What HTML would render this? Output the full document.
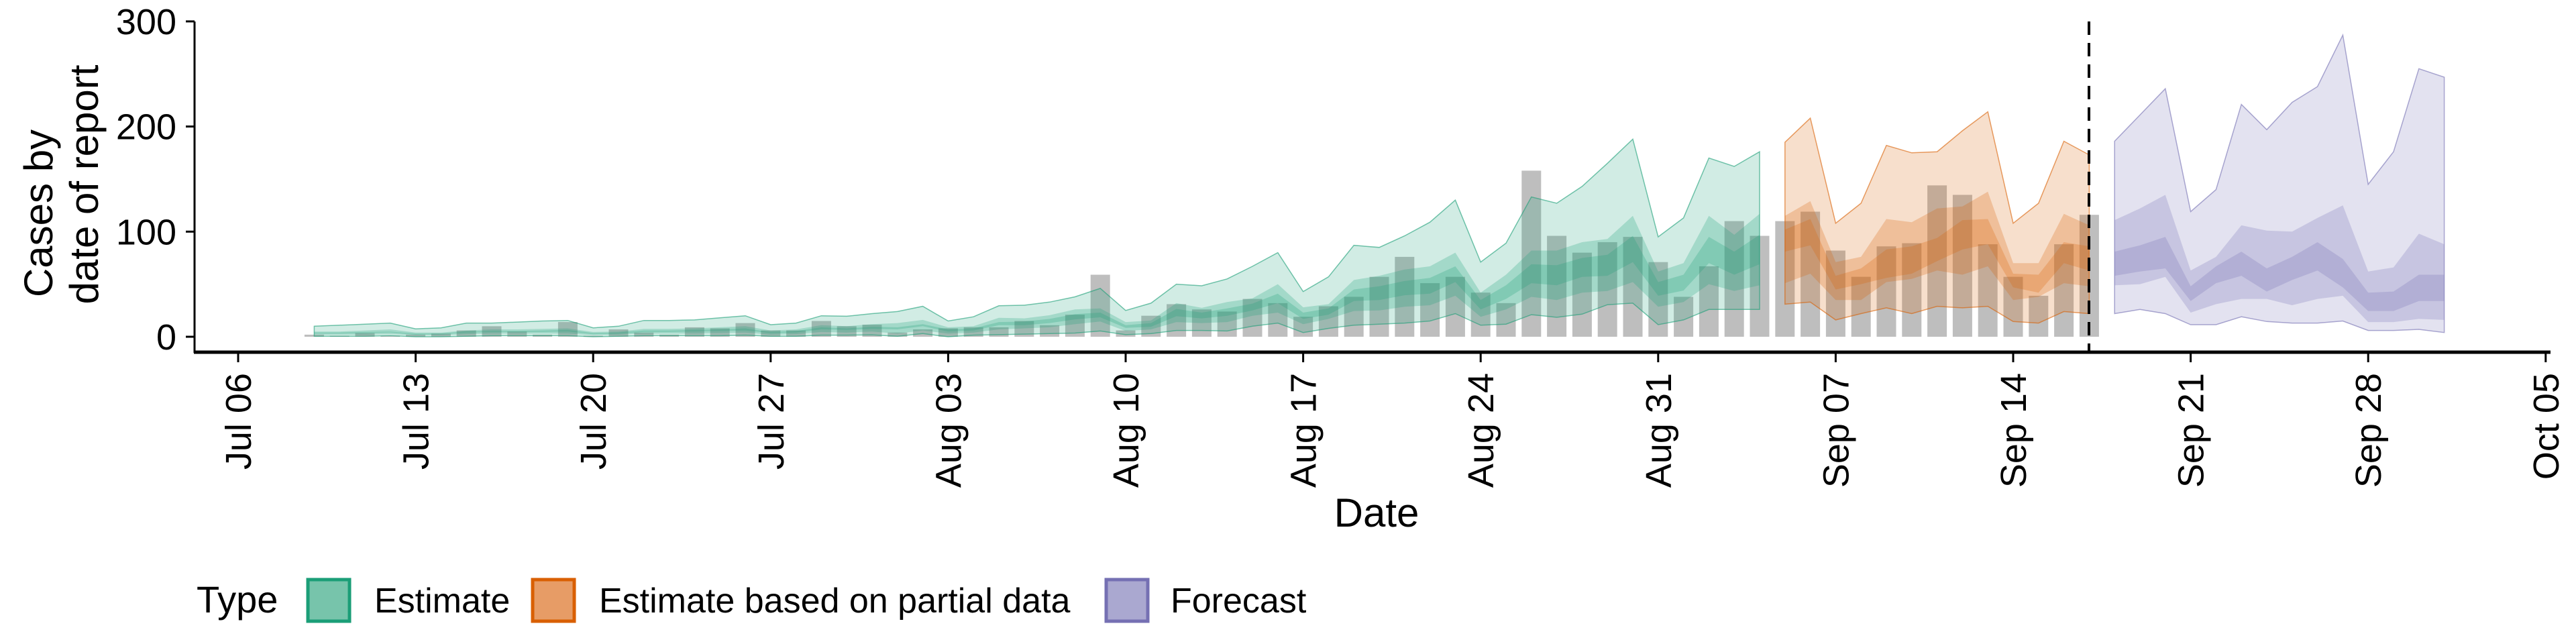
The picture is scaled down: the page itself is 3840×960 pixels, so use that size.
<!DOCTYPE html>
<html><head><meta charset="utf-8">
<style>
html,body{margin:0;padding:0;background:#fff;}
svg{display:block;font-family:"Liberation Sans",Arial,sans-serif;}
</style></head>
<body>
<svg id="chart" width="3840" height="960" viewBox="0 0 3840 960" xmlns="http://www.w3.org/2000/svg">
  <g id="bars"></g>
  <g id="bands"></g>
  <line x1="3114" y1="32" x2="3114" y2="525" stroke="#000" stroke-width="4" stroke-dasharray="20,12"/>
  <line x1="290" y1="32" x2="290" y2="526" stroke="#000" stroke-width="3"/>
  <line x1="289" y1="525" x2="3802" y2="525" stroke="#000" stroke-width="5"/>
  <g id="yticks"></g>
  <g id="xticks"></g>
  <g font-size="60">
    <text transform="translate(78,318) rotate(-90)" text-anchor="middle">Cases by</text>
    <text transform="translate(146,275) rotate(-90)" text-anchor="middle">date of report</text>
  </g>
  <text x="2052" y="785" font-size="60" text-anchor="middle">Date</text>
  <g font-size="52">
    <text x="293" y="913" font-size="56">Type</text>
    <g>
      <rect x="459" y="864" width="62" height="62" fill="#77c4ab" stroke="#1b9e77" stroke-width="5"/>
      <text x="558" y="913">Estimate</text>
    </g>
    <g>
      <rect x="794" y="864" width="62" height="62" fill="#e79c66" stroke="#d95f02" stroke-width="5"/>
      <text x="893" y="913">Estimate based on partial data</text>
    </g>
    <g>
      <rect x="1649" y="864" width="62" height="62" fill="#aaa8d0" stroke="#7570b3" stroke-width="5"/>
      <text x="1745" y="913">Forecast</text>
    </g>
  </g>
</svg>
<script>
// ---- data (day offsets from Jul 06) ----
const tickLabels = ["Jul 06","Jul 13","Jul 20","Jul 27","Aug 03","Aug 10","Aug 17","Aug 24","Aug 31","Sep 07","Sep 14","Sep 21","Sep 28","Oct 05"];
const yTicks = [0,100,200,300];
const barStart = 3;
const barValues = [2,1,3.5,1,2,3,6,10,5,2,14,1,7,4,2,9,8,13,6,6,15,10,
  11.5,4,7,8,9,9,15,11,21,59,6,20,31,26,24,36,32,19,29,38,57,76,51,57,42,32,158,96,80,90,95,71,38,67,110,96,
  110,119,82,57,86,89,144,135,88,57,39,88,116];

const estStart = 3;
const estU90 = [10,11,12,13,7.5,8.5,13,13,14,15,15.5,8.5,10,15.5,15.5,16,18,20,11.5,13,20,19.5,
  22,24,29,15,19,29.5,30,33,38,46,25,32,50,48.5,55,67,80,43,57,87,85,96,109,130,71,89,133,127,143,165,188,95,113,170,162,176];
const estU50 = [5,5,6,7,4,4,6,7,7,7.5,8,4.5,5,7.5,7.5,8,9,10,6,7,11,10,
  12,13,16,9,10,18,17.5,20.5,26,27,14,15.5,32,27.5,33,36.5,50,28,31,54,58,64,67,80,42,59,82,82,90,93,115,62,70,115,97,117];
const estU20 = [4,4,4.5,5,3,3,5,5.5,5.5,6,6.5,3.5,4,6,6,6.5,7,8,4.5,5.5,9,8,
  9.5,9,12,7,8,14,14.5,17,21.5,23,11,13,26.5,23,27,31.5,41,23,27,45,48,53,56,67,35,49,69,68,75,78,96,52,59,95,81,97];
const estL20 = [3,3,3.5,4,2,2.5,4,4.5,4.5,4.5,5,2.5,3,4.5,4.5,5,5.5,6,3.5,4,7,6.5,
  7.5,7,10,5,6,11,11,13,16.5,18.5,8.5,9.5,19.5,17.5,20,25,32,17,21,34,35,39.5,41,52,26,36,51,49,57,58,71,39,44,70,59,69];
const estL50 = [2,2,2,2.5,1.5,1.5,2.5,3,3,3,3,1.5,2,3,3,3,3.5,4,2,2.5,4.5,4,
  5,3,6,3,4,7,8,9,12,14.5,5.5,7,14,13,14,20,23,12,17,24.5,25,28.5,30,39,19,26,38,35,42,43.5,52,28.5,33,50,43.5,49];
const estL90 = [0.5,0.5,0.5,1,0,0,0.5,1,1,1,1,0,0.5,1,1,1,1,1.5,0.5,0.5,1.5,1.5,
  1.7,0.5,3,0,1.5,2,2.5,3,3.5,5.5,2,3,6,6,5.5,10,13,4,8,11,12,13,15,22,11,12,21,18.5,21.5,30.5,32,11.5,16,26,26,26];

const partStart = 61;
const partU90 = [185,208,108,127,182,175,176,196,214,108,127,186,173];
const partU50 = [115,129,71,76,112,109,122,124,138,70,70,117,106];
const partU20 = [102,112,58,65,83,86,94,111,112,60,59,90,86];
const partL20 = [81,87,45,50,56,60,72,83,88,47,42,70,63];
const partL50 = [51,60,35,35,52,55,63,59,67,35,38,51,48];
const partL90 = [31,33,16,22,27.5,22,29,27.5,29,14.5,13,24,22];

const fcStart = 74;
const fcU90 = [186,211,236,119,140,221,197,223,238,287,145,176,255,247];
const fcU50 = [111,122,135,63,76,106,101,100,113,125,62,66,98,88];
const fcU20 = [81,87,95,48,67,81,65,76,90,74,42,43,59,59];
const fcL20 = [58,62,65,34,51,58,43,54,63,47,24.5,24.5,34,34];
const fcL50 = [49,50,57,23,31,36,36,30,36,39,14,14,17,16];
const fcL90 = [22,26,22,11.5,11.5,19,14.5,13,13,15,6,6,7,4];

// ---- scales ----
const X0 = 355, PXD = 37.8, Y0 = 502, PXV = 1.567;
function xs(d){ return X0 + PXD*d; }
function ys(v){ return Y0 - PXV*v; }
const NS = "http://www.w3.org/2000/svg";

// bars
const gb = document.getElementById('bars');
barValues.forEach((v,i)=>{
  const d = barStart + i;
  const r = document.createElementNS(NS,'rect');
  r.setAttribute('x', xs(d)-14.5);
  r.setAttribute('y', ys(v));
  r.setAttribute('width', 29);
  r.setAttribute('height', Math.max(0, Y0 - ys(v)));
  r.setAttribute('fill', '#bebebe');
  
  
  gb.appendChild(r);
});

// bands
const gbd = document.getElementById('bands');
function band(start, up, lo, color, op, name, outline){
  let pts = [];
  up.forEach((v,i)=>pts.push(xs(start+i).toFixed(1)+','+ys(v).toFixed(1)));
  for(let i=lo.length-1;i>=0;i--) pts.push(xs(start+i).toFixed(1)+','+ys(lo[i]).toFixed(1));
  const p = document.createElementNS(NS,'polygon');
  p.setAttribute('points', pts.join(' '));
  p.setAttribute('fill', color);
  p.setAttribute('fill-opacity', op);
  if(outline){ p.setAttribute('stroke', color); p.setAttribute('stroke-opacity', 0.6); p.setAttribute('stroke-width', 1.5); }
  
  
  gbd.appendChild(p);
}
band(estStart, estU90, estL90, '#1b9e77', 0.2, 'estimate-band-90', true);
band(estStart, estU50, estL50, '#1b9e77', 0.25, 'estimate-band-50', false);
band(estStart, estU20, estL20, '#1b9e77', 0.25, 'estimate-band-20', false);
band(partStart, partU90, partL90, '#d95f02', 0.2, 'partial-band-90', true);
band(partStart, partU50, partL50, '#d95f02', 0.25, 'partial-band-50', false);
band(partStart, partU20, partL20, '#d95f02', 0.25, 'partial-band-20', false);
band(fcStart, fcU90, fcL90, '#7570b3', 0.2, 'forecast-band-90', true);
band(fcStart, fcU50, fcL50, '#7570b3', 0.25, 'forecast-band-50', false);
band(fcStart, fcU20, fcL20, '#7570b3', 0.25, 'forecast-band-20', false);

// y ticks
const gy = document.getElementById('yticks');
yTicks.forEach(v=>{
  const l = document.createElementNS(NS,'line');
  l.setAttribute('x1',277); l.setAttribute('x2',290);
  l.setAttribute('y1',ys(v)); l.setAttribute('y2',ys(v));
  l.setAttribute('stroke','#000'); l.setAttribute('stroke-width',3);
  
  
  gy.appendChild(l);
  const t = document.createElementNS(NS,'text');
  t.setAttribute('x',263); t.setAttribute('y',ys(v)+19);
  t.setAttribute('text-anchor','end'); t.setAttribute('font-size','54');
  t.textContent = v;
  
  
  gy.appendChild(t);
});

// x ticks
const gx = document.getElementById('xticks');
tickLabels.forEach((lab,i)=>{
  const d = i*7;
  const l = document.createElementNS(NS,'line');
  l.setAttribute('x1',xs(d)); l.setAttribute('x2',xs(d));
  l.setAttribute('y1',525); l.setAttribute('y2',540);
  l.setAttribute('stroke','#000'); l.setAttribute('stroke-width',3);
  
  
  gx.appendChild(l);
  const t = document.createElementNS(NS,'text');
  t.setAttribute('transform','translate('+(xs(d)+19)+',556) rotate(-90)');
  t.setAttribute('text-anchor','end'); t.setAttribute('font-size','54');
  t.textContent = lab;
  
  
  gx.appendChild(t);
});
</script>
</body></html>
